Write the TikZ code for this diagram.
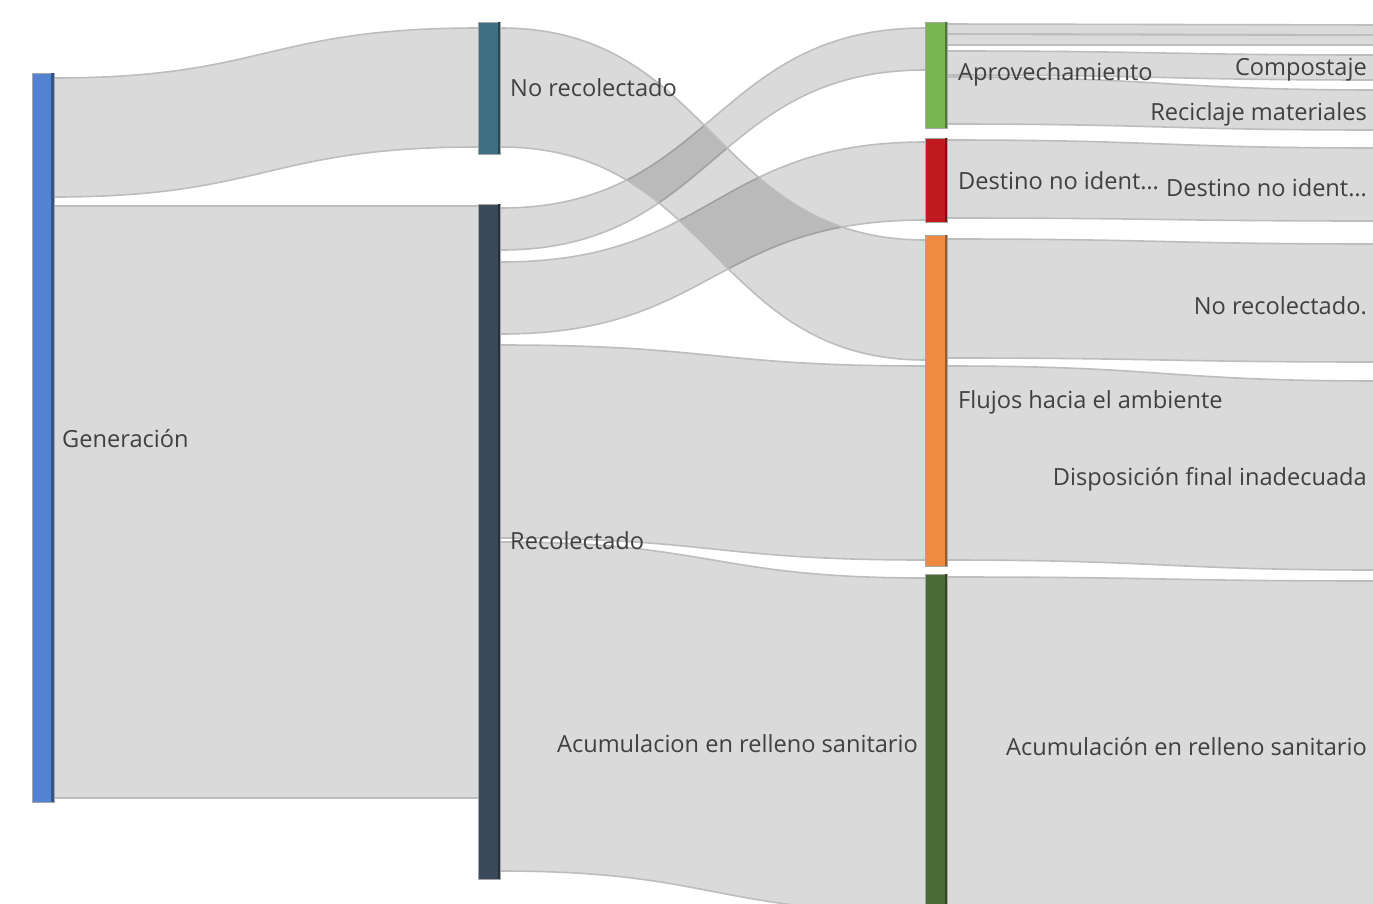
\documentclass[tikz,border=0pt]{standalone}
\usepackage{fontspec}
\setmainfont{Open Sans}
\usetikzlibrary{calc}
\definecolor{bandgray}{HTML}{000000}
\definecolor{edgegray}{HTML}{BDBDBD}
\definecolor{txt}{HTML}{404040}
\definecolor{cgen}{HTML}{5282D0}
\definecolor{cnr}{HTML}{3E6E82}
\definecolor{crec}{HTML}{3B4859}
\definecolor{capr}{HTML}{7AB650}
\definecolor{cdes}{HTML}{C0191E}
\definecolor{cflu}{HTML}{EE8B40}
\definecolor{cacu}{HTML}{4B6B36}
\tikzset{
  bandfill/.style={fill=bandgray, fill opacity=0.145},
  bandedge/.style={draw=edgegray, line width=1.6pt},
  sbar/.style={rectangle, inner sep=0pt, outer sep=0pt, minimum width=22pt, draw=gray!70, line width=0.8pt},
  lbl/.style={font=\fontsize{23.6}{26}\selectfont, text=txt, inner sep=0pt},
}
% band from anchor #1 (y #2..#3) to anchor #4 (y #5..#6)
\newcommand\skband[6]{%
  \coordinate (m1) at ($(#1)!0.5!(#4)$);
  \fill[bandfill] (#1 |- 0,#2) .. controls (m1 |- 0,#2) and (m1 |- 0,#5) .. (#4 |- 0,#5)
     -- (#4 |- 0,#6) .. controls (m1 |- 0,#6) and (m1 |- 0,#3) .. (#1 |- 0,#3) -- cycle;
  \draw[bandedge] (#1 |- 0,#2) .. controls (m1 |- 0,#2) and (m1 |- 0,#5) .. (#4 |- 0,#5);
  \draw[bandedge] (#1 |- 0,#3) .. controls (m1 |- 0,#3) and (m1 |- 0,#6) .. (#4 |- 0,#6);
}
\newcommand\skbar[5]{% name, color, xcenter, ytop, ybottom
  \node[sbar, fill=#2, minimum height={(#5)-(#4)}] (#1) at (#3,{((#4)+(#5))/2}) {};
  \draw[#2!65!black, line width=2.2pt] ([xshift=-1.6pt]#1.north east) -- ([xshift=-1.6pt]#1.south east);
}
\begin{document}
\begin{tikzpicture}[x=1pt,y=-1pt]
\useasboundingbox (0,0) rectangle (1373,903);
\clip (0,0) rectangle (1373,903);
\fill[white] (0,0) rectangle (1373,903);
% anchor coordinates for band ends
\coordinate (genR) at (54,0);
\coordinate (c2L) at (478,0);
\coordinate (c2R) at (501,0);
\coordinate (c3L) at (925,0);
\coordinate (c3R) at (948,0);
\coordinate (edgeR) at (1380,0);
% column 1 -> column 2
\skband{genR}{78}{197}{c2L}{28}{147}
\skband{genR}{206}{798}{c2L}{206}{798}
% column 2 -> column 3
\skband{c2R}{208}{250}{c3L}{28}{70}
\skband{c2R}{262}{334}{c3L}{142}{220}
\skband{c2R}{345}{538}{c3L}{366}{560}
\skband{c2R}{542}{871}{c3L}{578}{912}
\skband{c2R}{28}{147}{c3L}{240}{360}
% column 3 -> right edge
\skband{c3R}{24}{34}{edgeR}{25}{35}
\skband{c3R}{34}{45}{edgeR}{35}{45}
\skband{c3R}{51}{75}{edgeR}{55}{80}
\skband{c3R}{77}{124}{edgeR}{90}{130}
\skband{c3R}{140}{218}{edgeR}{148}{221}
\skband{c3R}{239}{358}{edgeR}{244}{362}
\skband{c3R}{366}{560}{edgeR}{381}{570}
\skband{c3R}{577}{920}{edgeR}{581}{920}
% bars
\skbar{gen}{cgen}{43}{73}{802}
\skbar{nr}{cnr}{489.5}{22}{154}
\skbar{rec}{crec}{489.5}{204}{879}
\skbar{apr}{capr}{936.5}{22}{128}
\skbar{des}{cdes}{936.5}{138}{222}
\skbar{flu}{cflu}{936.5}{235}{566}
\skbar{acu}{cacu}{936.5}{574}{925}
% labels
\node[lbl, anchor=west] (lgen) at (62,439) {Generación};
\node[lbl, anchor=west] (lnr) at (510,88) {No recolectado};
\node[lbl, anchor=west] (lrec) at (510,541) {Recolectado};
\node[lbl, anchor=east] (lacu1) at (918,744) {Acumulacion en relleno sanitario};
\node[lbl, anchor=west] (lapr) at (958,74) {Aprovechamiento};
\node[lbl, anchor=west] (ldes) at (958,181) {Destino no ident…};
\node[lbl, anchor=west] (lflu) at (958,402) {Flujos hacia el ambiente};
\node[lbl, anchor=east] (lcomp) at (1367,70) {Compostaje};
\node[lbl, anchor=east] (lrec2) at (1367,114) {Reciclaje materiales};
\node[lbl, anchor=east] (ldes2) at (1367,188) {Destino no ident…};
\node[lbl, anchor=east] (lnr2) at (1367,306) {No recolectado.};
\node[lbl, anchor=east] (ldisp) at (1367,479) {Disposición final inadecuada};
\node[lbl, anchor=east] (lacu2) at (1367,747) {Acumulación en relleno sanitario};
\end{tikzpicture}
\end{document}
